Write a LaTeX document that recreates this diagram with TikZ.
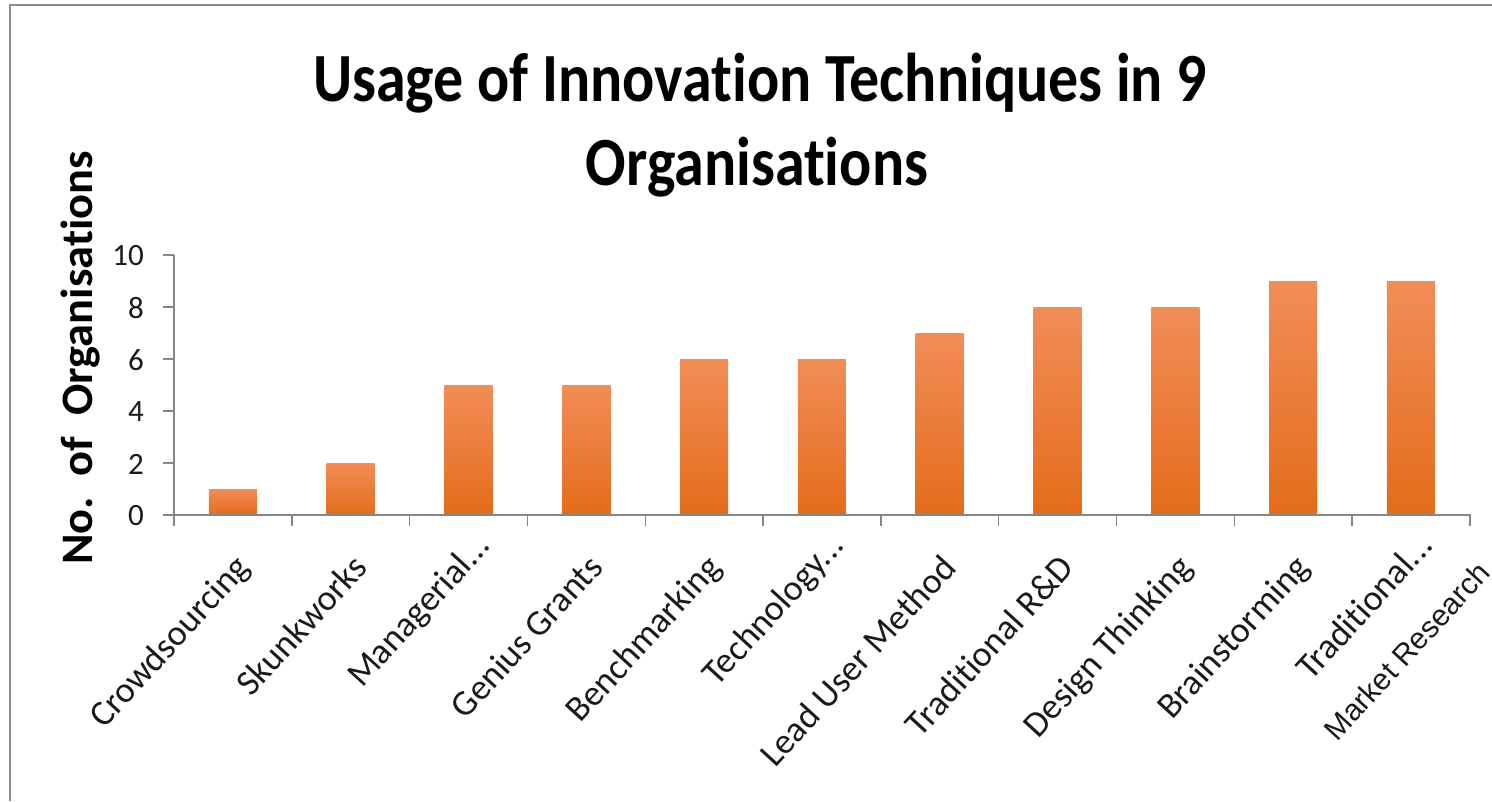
\documentclass[tikz,border=0pt]{standalone}
\usepackage{fontspec}
\setmainfont{Carlito}[Ligatures=NoCommon]
\newfontfamily\arialfont{Liberation Sans}
\newcommand\truncdots{.\kern0pt.\kern0pt.}
\definecolor{axisgray}{HTML}{868686}
\definecolor{framegray}{HTML}{8C8C8C}
\definecolor{bartop}{HTML}{F18D58}
\definecolor{barmid}{HTML}{F47E2A}
\definecolor{barbot}{HTML}{E46C1A}
\definecolor{labeltext}{HTML}{1A1A1A}
\begin{document}
\begin{tikzpicture}[x=1pt,y=-1pt,
  axisline/.style={draw=axisgray, line width=1.4pt},
  barbox/.style={top color=bartop, middle color=barmid, bottom color=barbot, draw=none},
  titletext/.style={font=\fontsize{60}{60}\bfseries\selectfont, inner sep=0pt, text=black},
  ylabtext/.style={font=\fontsize{45}{45}\bfseries\selectfont, inner sep=0pt, text=black},
  ticklabel/.style={font=\fontsize{31}{31}\selectfont, anchor=east, inner sep=0pt, text=labeltext},
  catlabel/.style={font=\fontsize{36}{36}\selectfont, rotate=47.5, anchor=north east, inner sep=0pt, text=labeltext}]
\useasboundingbox (0,0) rectangle (1492,801);
\fill[white] (0,0) rectangle (1492,801);
% frame (top and left edges visible)
\draw[framegray, line width=2pt] (10,801) -- (10,5) -- (1492,5);
% title
\node[titletext, anchor=base] (title1) at (760,101) {\scalebox{1}[1.15]{Usage of Innovation Techniques in 9}};
\node[titletext, anchor=base] (title2) at (757,185) {\scalebox{1}[1.15]{Organisations}};
% y axis label
\node[ylabtext, rotate=90, anchor=base] (ylabel) at (92,358) {\scalebox{1.03}[1]{No.~~of~~Organisations}};
% bars
\foreach \v [count=\i] in {1,2,5,5,6,6,7,8,8,9,9}{
  \pgfmathsetmacro{\cx}{174+(\i-0.5)*117.8}
  \path[barbox] ({\cx-24},515) rectangle ({\cx+24},{515-26*\v});
}
% axes
\draw[axisline] (174,255) -- (174,526);
\draw[axisline] (163,515) -- (1471,515);
\foreach \k in {0,...,5}{
  \draw[axisline] (163,{515-52*\k}) -- (174,{515-52*\k});
  \pgfmathtruncatemacro{\lab}{2*\k}
  \node[ticklabel] (ytick\k) at (144,{516-52*\k}) {\lab};
}
\foreach \k in {1,...,11}{
  \draw[axisline] ({174+\k*117.8},515) -- ({174+\k*117.8},526);
}
% category labels
\foreach \name/\dx/\dy [count=\i] in {Crowdsourcing/0/552, Skunkworks/0/552, Managerial\truncdots/5/530, Genius Grants/0/552, Benchmarking/0/552, Technology\truncdots/5/530, Lead User Method/0/552, Traditional R\&D/0/552, Design Thinking/0/552, Brainstorming/0/552, Traditional\truncdots/5/530}{
  \pgfmathsetmacro{\cx}{174+(\i-0.5)*117.8+\dx}
  \node[catlabel] (cat\i) at (\cx,\dy) {\name};
}
\node[catlabel, font=\arialfont\fontsize{30}{30}\selectfont] (cat11b) at (1476,559) {Market Research};
\end{tikzpicture}
\end{document}
